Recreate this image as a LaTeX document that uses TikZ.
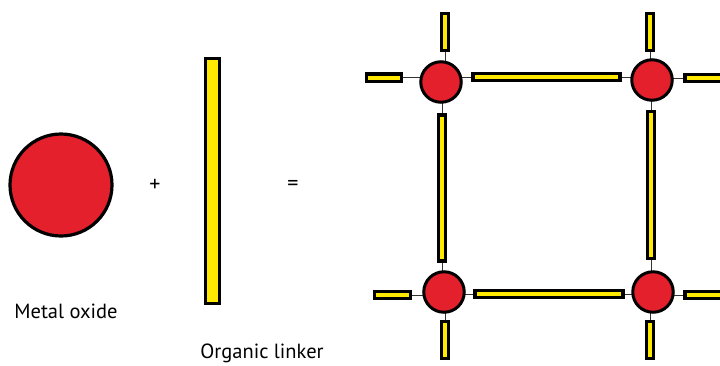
\documentclass[tikz,border=0pt]{standalone}
\usepackage{fontspec}
\setmainfont{PT Sans}
\usetikzlibrary{backgrounds}
\definecolor{mred}{HTML}{E3202B}
\definecolor{myel}{HTML}{FFE900}
\tikzset{
  metal/.style={circle,draw=black,line width=3pt,fill=mred,minimum size=40.5pt,inner sep=0pt},
  bigmetal/.style={circle,draw=black,line width=3.2pt,fill=mred,minimum size=102pt,inner sep=0pt},
  hlink/.style={rectangle,draw=black,line width=3.2pt,fill=myel,inner sep=0pt,minimum height=7.2pt,minimum width=#1},
  vlink/.style={rectangle,draw=black,line width=3.2pt,fill=myel,inner sep=0pt,minimum width=7.2pt,minimum height=#1},
  bond/.style={draw=black!80,line width=0.8pt},
  lbl/.style={font=\fontsize{20.5}{22}\selectfont,inner sep=0pt},
  sym/.style={font=\fontsize{22}{24}\selectfont,inner sep=0pt}
}
\begin{document}
\begin{tikzpicture}[x=1pt,y=-1pt]
\clip (0,0) rectangle (720,365);
\useasboundingbox (0,0) rectangle (720,365);
% left part
\node[bigmetal] (mo) at (61,185) {};
\node[sym] (plus) at (155,185) {+};
\node[rectangle,draw=black,line width=3.2pt,fill=myel,inner sep=0pt,minimum width=13.5pt,minimum height=245pt] (ol) at (212.5,181) {};
\node[sym] (eq) at (293,185) {=};
\node[lbl] (tmo) at (66,311) {Metal oxide};
\node[lbl] (tol) at (262,353) {Organic linker};
% framework nodes
\node[metal] (A) at (441,82) {};
\node[metal] (B) at (652,80) {};
\node[metal] (C) at (444,292) {};
\node[metal] (D) at (653,292) {};
% linkers
\node[hlink=147pt] (AB) at (546.5,77) {};
\node[hlink=148pt] (CD) at (549,294) {};
\node[vlink=146pt] (AC) at (442,188) {};
\node[vlink=147pt] (BD) at (651,185) {};
\node[vlink=36.5pt] (At) at (445,32) {};
\node[hlink=34.5pt] (Al) at (384,77.5) {};
\node[vlink=36.5pt] (Bt) at (650,32) {};
\node[hlink=50pt] (Br) at (710,78) {};
\node[hlink=35.5pt] (Cl) at (392.5,295) {};
\node[vlink=36.5pt] (Cb) at (445,340) {};
\node[vlink=36.5pt] (Db) at (650,340) {};
\node[hlink=50pt] (Dr) at (710,295) {};
\begin{scope}[on background layer]
\draw[bond] (AB.west) -- (AB.west -| A.center);
\draw[bond] (AB.east) -- (AB.east -| B.center);
\draw[bond] (CD.west) -- (CD.west -| C.center);
\draw[bond] (CD.east) -- (CD.east -| D.center);
\draw[bond] (AC.north) -- (AC.north |- A.center);
\draw[bond] (AC.south) -- (AC.south |- C.center);
\draw[bond] (BD.north) -- (BD.north |- B.center);
\draw[bond] (BD.south) -- (BD.south |- D.center);
\draw[bond] (At.south) -- (At.south |- A.center);
\draw[bond] (Al.east) -- (Al.east -| A.center);
\draw[bond] (Bt.south) -- (Bt.south |- B.center);
\draw[bond] (Br.west) -- (Br.west -| B.center);
\draw[bond] (Cl.east) -- (Cl.east -| C.center);
\draw[bond] (Cb.north) -- (Cb.north |- C.center);
\draw[bond] (Db.north) -- (Db.north |- D.center);
\draw[bond] (Dr.west) -- (Dr.west -| D.center);
\end{scope}
\end{tikzpicture}
\end{document}
